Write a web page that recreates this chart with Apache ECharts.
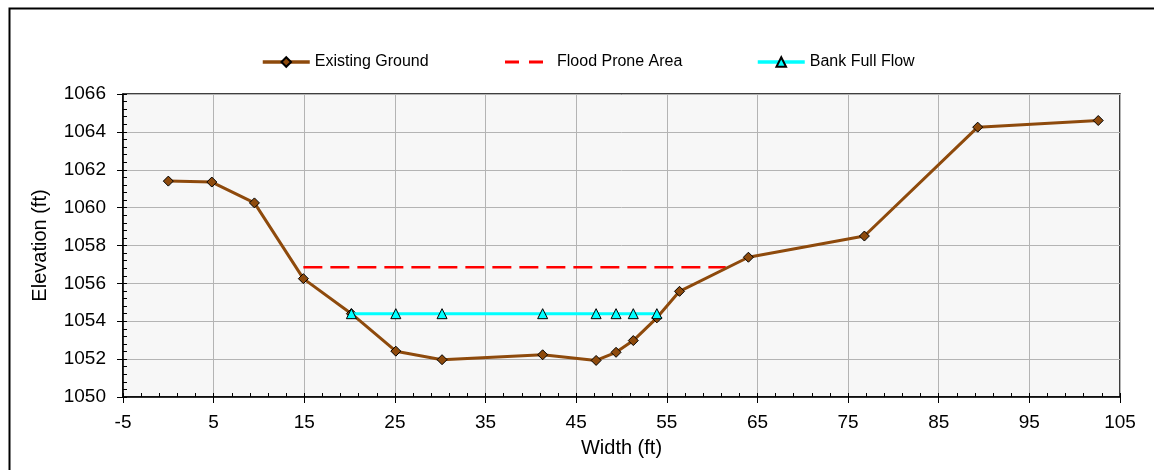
<!DOCTYPE html>
<html>
<head>
<meta charset="utf-8">
<script src="https://cdn.jsdelivr.net/npm/echarts@6/dist/echarts.min.js"></script>
<style>html,body{margin:0;padding:0;background:#fff}#c{width:1154px;height:470px}</style>
</head>
<body>
<div id="c"></div>
<script>
// Data
const groundX = [0.0, 4.8, 9.5, 14.9, 20.2, 25.1, 30.2, 41.3, 47.2, 49.4, 51.3, 53.9, 56.4, 64.0, 76.8, 89.3, 102.6];
const groundY = [1061.4, 1061.35, 1060.25, 1056.25, 1054.4, 1052.42, 1051.97, 1052.23, 1051.93, 1052.36, 1052.98, 1054.18, 1055.58, 1057.38, 1058.5, 1064.25, 1064.6];
const floodX = [14.9, 61.5];
const floodY = [1056.85, 1056.85];
const bankX = [20.2, 25.1, 30.2, 41.3, 47.2, 49.4, 51.3, 53.9];
const bankY = [1054.4, 1054.4, 1054.4, 1054.4, 1054.4, 1054.4, 1054.4, 1054.4];
const seriesNames = ['Existing Ground', 'Flood Prone Area', 'Bank Full Flow'];

const zip = (xs, ys) => xs.map((x, i) => [x, ys[i]]);
const FONT = 'Liberation Sans, Arial, sans-serif';

const chart = echarts.init(document.getElementById('c'), null, {renderer: 'canvas'});
const legendBase = {
  top: 54, itemWidth: 47, itemHeight: 12, itemGap: 0, padding: 0,
  lineStyle: {width: 3.5},
  textStyle: {fontFamily: FONT, fontSize: 16, color: '#000'}
};
chart.setOption({
  animation: false,
  backgroundColor: '#fff',
  graphic: [{
    type: 'rect', left: 7, top: 6, silent: true,
    shape: {width: 1160, height: 480},
    style: {fill: 'none', stroke: '#000', lineWidth: 2}
  }],
  legend: [
    Object.assign({}, legendBase, {left: 261, data: [seriesNames[0]]}),
    Object.assign({}, legendBase, {
      left: 505, top: 54, itemWidth: 38, itemHeight: 3,
      data: [{name: seriesNames[1], icon: 'path://M0,0h14v3h-14zM24,0h14v3h-14z'}],
      textStyle: {fontFamily: FONT, fontSize: 16, color: '#000', padding: [0, 0, 0, 9]}
    }),
    Object.assign({}, legendBase, {left: 756, data: [seriesNames[2]]})
  ],
  grid: {
    left: 123, right: 34, top: 94, bottom: 73,
    show: true, backgroundColor: '#F7F7F7', borderColor: '#000', borderWidth: 1.5
  },
  xAxis: [{
    type: 'value', min: -5, max: 105, interval: 10,
    name: 'Width (ft)', nameLocation: 'middle', nameGap: 41,
    nameTextStyle: {fontFamily: FONT, fontSize: 20, color: '#000'},
    axisLine: {show: true, onZero: false, lineStyle: {color: '#000', width: 1.5}},
    axisTick: {show: true, inside: false, length: 6, lineStyle: {color: '#000'}},
    axisLabel: {fontFamily: FONT, fontSize: 19, color: '#000', margin: 16},
    splitLine: {show: true, lineStyle: {color: '#B4B4B4', width: 1}}
  }, {
    type: 'value', min: -5, max: 105, interval: 2, position: 'bottom',
    axisLine: {show: false, onZero: false}, axisLabel: {show: false}, splitLine: {show: false},
    axisTick: {show: true, inside: true, length: 4, lineStyle: {color: '#000'}}
  }],
  yAxis: [{
    type: 'value', min: 1050, max: 1066, interval: 2,
    name: 'Elevation (ft)', nameLocation: 'middle', nameGap: 73,
    nameTextStyle: {fontFamily: FONT, fontSize: 20, color: '#000'},
    axisLine: {show: true, onZero: false, lineStyle: {color: '#000', width: 1.5}},
    axisTick: {show: true, inside: false, length: 6, lineStyle: {color: '#000'}},
    axisLabel: {fontFamily: FONT, fontSize: 19, color: '#000', margin: 17, formatter: v => String(v)},
    splitLine: {show: true, lineStyle: {color: '#B4B4B4', width: 1}}
  }, {
    type: 'value', min: 1050, max: 1066, interval: 0.4, position: 'left',
    axisLine: {show: false, onZero: false}, axisLabel: {show: false}, splitLine: {show: false},
    axisTick: {show: true, inside: true, length: 4, lineStyle: {color: '#000'}}
  }],
  series: [{
    name: seriesNames[0], type: 'line', data: zip(groundX, groundY),
    symbol: 'diamond', symbolSize: 10, z: 3,
    lineStyle: {color: '#8E4A0C', width: 3},
    itemStyle: {color: '#8E4A0C', borderColor: '#000', borderWidth: 1}
  }, {
    name: seriesNames[1], type: 'line', data: zip(floodX, floodY),
    symbol: 'none', z: 2,
    lineStyle: {color: '#FF0000', width: 2.5, type: [19, 8]},
    itemStyle: {color: '#FF0000'}
  }, {
    name: seriesNames[2], type: 'line', data: zip(bankX, bankY),
    symbol: 'triangle', symbolSize: 10, z: 4,
    lineStyle: {color: '#00FFFF', width: 3},
    itemStyle: {color: '#00FFFF', borderColor: '#000', borderWidth: 1}
  }]
});
</script>
</body>
</html>
